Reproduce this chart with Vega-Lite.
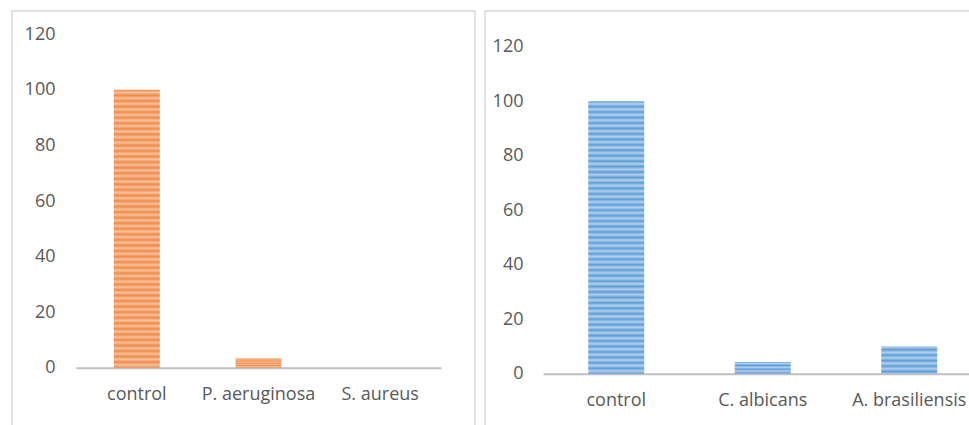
{
  "$schema": "https://vega.github.io/schema/vega-lite/v6.json",
  "padding": {"left": 11, "top": 10, "right": 0, "bottom": 0},
  "background": "white",
  "spacing": 8,
  "config": {
    "view": {"stroke": "#d9d9d9", "strokeWidth": 1.5},
    "font": "Open Sans",
    "axis": {"labelFont": "Open Sans", "labelFontSize": 18, "labelColor": "#595959", "title": null, "grid": false, "ticks": false, "tickSize": 0}
  },
  "hconcat": [
    {
      "width": 463,
      "height": 420,
      "data": {"values": [
        {"organism": "control", "value": 100},
        {"organism": "P. aeruginosa", "value": 3.3},
        {"organism": "S. aureus", "value": 0}
      ]},
      "mark": {"type": "bar", "color": {"gradient": "linear", "x1": 0, "y1": 0, "x2": 0, "y2": 1, "stops": [
        {"offset": 0, "color": "#EF8A4B"}, {"offset": 0.01, "color": "#F8C19B"},
        {"offset": 0.02, "color": "#EF8A4B"}, {"offset": 0.03, "color": "#F8C19B"},
        {"offset": 0.04, "color": "#EF8A4B"}, {"offset": 0.05, "color": "#F8C19B"},
        {"offset": 0.06, "color": "#EF8A4B"}, {"offset": 0.07, "color": "#F8C19B"},
        {"offset": 0.08, "color": "#EF8A4B"}, {"offset": 0.09, "color": "#F8C19B"},
        {"offset": 0.10, "color": "#EF8A4B"}, {"offset": 0.11, "color": "#F8C19B"},
        {"offset": 0.12, "color": "#EF8A4B"}, {"offset": 0.13, "color": "#F8C19B"},
        {"offset": 0.14, "color": "#EF8A4B"}, {"offset": 0.15, "color": "#F8C19B"},
        {"offset": 0.16, "color": "#EF8A4B"}, {"offset": 0.17, "color": "#F8C19B"},
        {"offset": 0.18, "color": "#EF8A4B"}, {"offset": 0.19, "color": "#F8C19B"},
        {"offset": 0.20, "color": "#EF8A4B"}, {"offset": 0.21, "color": "#F8C19B"},
        {"offset": 0.22, "color": "#EF8A4B"}, {"offset": 0.23, "color": "#F8C19B"},
        {"offset": 0.24, "color": "#EF8A4B"}, {"offset": 0.25, "color": "#F8C19B"},
        {"offset": 0.26, "color": "#EF8A4B"}, {"offset": 0.27, "color": "#F8C19B"},
        {"offset": 0.28, "color": "#EF8A4B"}, {"offset": 0.29, "color": "#F8C19B"},
        {"offset": 0.30, "color": "#EF8A4B"}, {"offset": 0.31, "color": "#F8C19B"},
        {"offset": 0.32, "color": "#EF8A4B"}, {"offset": 0.33, "color": "#F8C19B"},
        {"offset": 0.34, "color": "#EF8A4B"}, {"offset": 0.35, "color": "#F8C19B"},
        {"offset": 0.36, "color": "#EF8A4B"}, {"offset": 0.37, "color": "#F8C19B"},
        {"offset": 0.38, "color": "#EF8A4B"}, {"offset": 0.39, "color": "#F8C19B"},
        {"offset": 0.40, "color": "#EF8A4B"}, {"offset": 0.41, "color": "#F8C19B"},
        {"offset": 0.42, "color": "#EF8A4B"}, {"offset": 0.43, "color": "#F8C19B"},
        {"offset": 0.44, "color": "#EF8A4B"}, {"offset": 0.45, "color": "#F8C19B"},
        {"offset": 0.46, "color": "#EF8A4B"}, {"offset": 0.47, "color": "#F8C19B"},
        {"offset": 0.48, "color": "#EF8A4B"}, {"offset": 0.49, "color": "#F8C19B"},
        {"offset": 0.50, "color": "#EF8A4B"}, {"offset": 0.51, "color": "#F8C19B"},
        {"offset": 0.52, "color": "#EF8A4B"}, {"offset": 0.53, "color": "#F8C19B"},
        {"offset": 0.54, "color": "#EF8A4B"}, {"offset": 0.55, "color": "#F8C19B"},
        {"offset": 0.56, "color": "#EF8A4B"}, {"offset": 0.57, "color": "#F8C19B"},
        {"offset": 0.58, "color": "#EF8A4B"}, {"offset": 0.59, "color": "#F8C19B"},
        {"offset": 0.60, "color": "#EF8A4B"}, {"offset": 0.61, "color": "#F8C19B"},
        {"offset": 0.62, "color": "#EF8A4B"}, {"offset": 0.63, "color": "#F8C19B"},
        {"offset": 0.64, "color": "#EF8A4B"}, {"offset": 0.65, "color": "#F8C19B"},
        {"offset": 0.66, "color": "#EF8A4B"}, {"offset": 0.67, "color": "#F8C19B"},
        {"offset": 0.68, "color": "#EF8A4B"}, {"offset": 0.69, "color": "#F8C19B"},
        {"offset": 0.70, "color": "#EF8A4B"}, {"offset": 0.71, "color": "#F8C19B"},
        {"offset": 0.72, "color": "#EF8A4B"}, {"offset": 0.73, "color": "#F8C19B"},
        {"offset": 0.74, "color": "#EF8A4B"}, {"offset": 0.75, "color": "#F8C19B"},
        {"offset": 0.76, "color": "#EF8A4B"}, {"offset": 0.77, "color": "#F8C19B"},
        {"offset": 0.78, "color": "#EF8A4B"}, {"offset": 0.79, "color": "#F8C19B"},
        {"offset": 0.80, "color": "#EF8A4B"}, {"offset": 0.81, "color": "#F8C19B"},
        {"offset": 0.82, "color": "#EF8A4B"}, {"offset": 0.83, "color": "#F8C19B"},
        {"offset": 0.84, "color": "#EF8A4B"}, {"offset": 0.85, "color": "#F8C19B"},
        {"offset": 0.86, "color": "#EF8A4B"}, {"offset": 0.87, "color": "#F8C19B"},
        {"offset": 0.88, "color": "#EF8A4B"}, {"offset": 0.89, "color": "#F8C19B"},
        {"offset": 0.90, "color": "#EF8A4B"}, {"offset": 0.91, "color": "#F8C19B"},
        {"offset": 0.92, "color": "#EF8A4B"}, {"offset": 0.93, "color": "#F8C19B"},
        {"offset": 0.94, "color": "#EF8A4B"}, {"offset": 0.95, "color": "#F8C19B"},
        {"offset": 0.96, "color": "#EF8A4B"}, {"offset": 0.97, "color": "#F8C19B"},
        {"offset": 0.98, "color": "#EF8A4B"}, {"offset": 0.99, "color": "#F8C19B"},
        {"offset": 1, "color": "#EF8A4B"}
      ]}},
      "encoding": {
        "x": {"field": "organism", "type": "nominal", "sort": null,
          "scale": {"range": [64, 429], "paddingInner": 0.622, "paddingOuter": 0.311},
          "axis": {"orient": "bottom", "offset": -63.3, "labelAngle": 0, "domainColor": "#bfbfbf", "domainWidth": 2, "labelPadding": 18}},
        "y": {"field": "value", "type": "quantitative",
          "scale": {"domain": [0, 120], "range": [356.7, 23.3], "nice": false},
          "axis": {"values": [0, 20, 40, 60, 80, 100, 120], "domain": false, "offset": -49, "labelPadding": 6}}
      }
    },
    {
      "width": 490,
      "height": 420,
      "data": {"values": [
        {"organism": "control", "value": 100},
        {"organism": "C. albicans", "value": 4.3},
        {"organism": "A. brasiliensis", "value": 10.1}
      ]},
      "mark": {"type": "bar", "color": {"gradient": "linear", "x1": 0, "y1": 0, "x2": 0, "y2": 1, "stops": [
        {"offset": 0, "color": "#5E9DD6"}, {"offset": 0.01, "color": "#B3D1EF"},
        {"offset": 0.02, "color": "#5E9DD6"}, {"offset": 0.03, "color": "#B3D1EF"},
        {"offset": 0.04, "color": "#5E9DD6"}, {"offset": 0.05, "color": "#B3D1EF"},
        {"offset": 0.06, "color": "#5E9DD6"}, {"offset": 0.07, "color": "#B3D1EF"},
        {"offset": 0.08, "color": "#5E9DD6"}, {"offset": 0.09, "color": "#B3D1EF"},
        {"offset": 0.10, "color": "#5E9DD6"}, {"offset": 0.11, "color": "#B3D1EF"},
        {"offset": 0.12, "color": "#5E9DD6"}, {"offset": 0.13, "color": "#B3D1EF"},
        {"offset": 0.14, "color": "#5E9DD6"}, {"offset": 0.15, "color": "#B3D1EF"},
        {"offset": 0.16, "color": "#5E9DD6"}, {"offset": 0.17, "color": "#B3D1EF"},
        {"offset": 0.18, "color": "#5E9DD6"}, {"offset": 0.19, "color": "#B3D1EF"},
        {"offset": 0.20, "color": "#5E9DD6"}, {"offset": 0.21, "color": "#B3D1EF"},
        {"offset": 0.22, "color": "#5E9DD6"}, {"offset": 0.23, "color": "#B3D1EF"},
        {"offset": 0.24, "color": "#5E9DD6"}, {"offset": 0.25, "color": "#B3D1EF"},
        {"offset": 0.26, "color": "#5E9DD6"}, {"offset": 0.27, "color": "#B3D1EF"},
        {"offset": 0.28, "color": "#5E9DD6"}, {"offset": 0.29, "color": "#B3D1EF"},
        {"offset": 0.30, "color": "#5E9DD6"}, {"offset": 0.31, "color": "#B3D1EF"},
        {"offset": 0.32, "color": "#5E9DD6"}, {"offset": 0.33, "color": "#B3D1EF"},
        {"offset": 0.34, "color": "#5E9DD6"}, {"offset": 0.35, "color": "#B3D1EF"},
        {"offset": 0.36, "color": "#5E9DD6"}, {"offset": 0.37, "color": "#B3D1EF"},
        {"offset": 0.38, "color": "#5E9DD6"}, {"offset": 0.39, "color": "#B3D1EF"},
        {"offset": 0.40, "color": "#5E9DD6"}, {"offset": 0.41, "color": "#B3D1EF"},
        {"offset": 0.42, "color": "#5E9DD6"}, {"offset": 0.43, "color": "#B3D1EF"},
        {"offset": 0.44, "color": "#5E9DD6"}, {"offset": 0.45, "color": "#B3D1EF"},
        {"offset": 0.46, "color": "#5E9DD6"}, {"offset": 0.47, "color": "#B3D1EF"},
        {"offset": 0.48, "color": "#5E9DD6"}, {"offset": 0.49, "color": "#B3D1EF"},
        {"offset": 0.50, "color": "#5E9DD6"}, {"offset": 0.51, "color": "#B3D1EF"},
        {"offset": 0.52, "color": "#5E9DD6"}, {"offset": 0.53, "color": "#B3D1EF"},
        {"offset": 0.54, "color": "#5E9DD6"}, {"offset": 0.55, "color": "#B3D1EF"},
        {"offset": 0.56, "color": "#5E9DD6"}, {"offset": 0.57, "color": "#B3D1EF"},
        {"offset": 0.58, "color": "#5E9DD6"}, {"offset": 0.59, "color": "#B3D1EF"},
        {"offset": 0.60, "color": "#5E9DD6"}, {"offset": 0.61, "color": "#B3D1EF"},
        {"offset": 0.62, "color": "#5E9DD6"}, {"offset": 0.63, "color": "#B3D1EF"},
        {"offset": 0.64, "color": "#5E9DD6"}, {"offset": 0.65, "color": "#B3D1EF"},
        {"offset": 0.66, "color": "#5E9DD6"}, {"offset": 0.67, "color": "#B3D1EF"},
        {"offset": 0.68, "color": "#5E9DD6"}, {"offset": 0.69, "color": "#B3D1EF"},
        {"offset": 0.70, "color": "#5E9DD6"}, {"offset": 0.71, "color": "#B3D1EF"},
        {"offset": 0.72, "color": "#5E9DD6"}, {"offset": 0.73, "color": "#B3D1EF"},
        {"offset": 0.74, "color": "#5E9DD6"}, {"offset": 0.75, "color": "#B3D1EF"},
        {"offset": 0.76, "color": "#5E9DD6"}, {"offset": 0.77, "color": "#B3D1EF"},
        {"offset": 0.78, "color": "#5E9DD6"}, {"offset": 0.79, "color": "#B3D1EF"},
        {"offset": 0.80, "color": "#5E9DD6"}, {"offset": 0.81, "color": "#B3D1EF"},
        {"offset": 0.82, "color": "#5E9DD6"}, {"offset": 0.83, "color": "#B3D1EF"},
        {"offset": 0.84, "color": "#5E9DD6"}, {"offset": 0.85, "color": "#B3D1EF"},
        {"offset": 0.86, "color": "#5E9DD6"}, {"offset": 0.87, "color": "#B3D1EF"},
        {"offset": 0.88, "color": "#5E9DD6"}, {"offset": 0.89, "color": "#B3D1EF"},
        {"offset": 0.90, "color": "#5E9DD6"}, {"offset": 0.91, "color": "#B3D1EF"},
        {"offset": 0.92, "color": "#5E9DD6"}, {"offset": 0.93, "color": "#B3D1EF"},
        {"offset": 0.94, "color": "#5E9DD6"}, {"offset": 0.95, "color": "#B3D1EF"},
        {"offset": 0.96, "color": "#5E9DD6"}, {"offset": 0.97, "color": "#B3D1EF"},
        {"offset": 0.98, "color": "#5E9DD6"}, {"offset": 0.99, "color": "#B3D1EF"},
        {"offset": 1, "color": "#5E9DD6"}
      ]}},
      "encoding": {
        "x": {"field": "organism", "type": "nominal", "sort": null,
          "scale": {"range": [58, 497.5], "paddingInner": 0.618, "paddingOuter": 0.309},
          "axis": {"orient": "bottom", "offset": -57.3, "labelAngle": 0, "domainColor": "#bfbfbf", "domainWidth": 2, "labelPadding": 18}},
        "y": {"field": "value", "type": "quantitative",
          "scale": {"domain": [0, 120], "range": [362.7, 35.7], "nice": false},
          "axis": {"values": [0, 20, 40, 60, 80, 100, 120], "domain": false, "offset": -44, "labelPadding": 6}}
      }
    }
  ]
}
